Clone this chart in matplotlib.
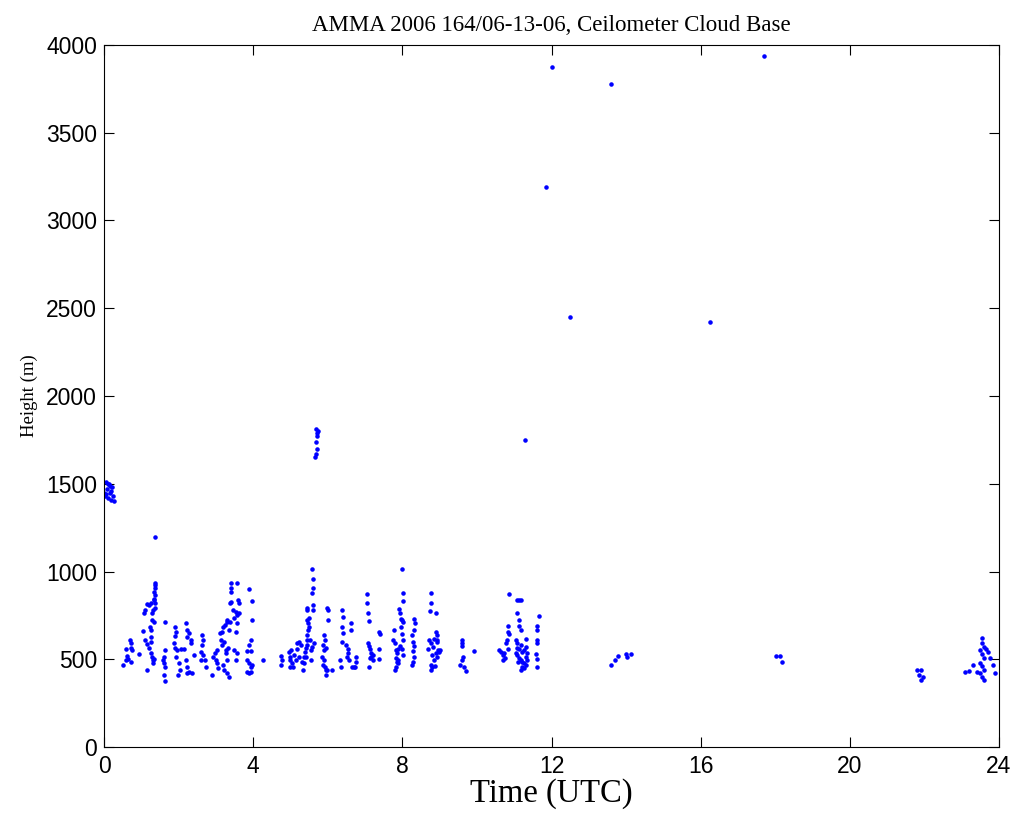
import matplotlib
matplotlib.use("Agg")
import matplotlib.pyplot as plt
import numpy as np

# cloud base hits (time in UTC hours, height in m)
t_early = [0.05, 0.10, 0.15, 0.08, 0.00, 0.05, 0.20, 0.25, 0.20, 0.28, 0.10, 0.02, 0.15, 0.22, 0.12]
h_early = [1510, 1500, 1490, 1470, 1450, 1440, 1460, 1430, 1410, 1400, 1420, 1430, 1450, 1480, 1500]

t_0to2 = [0.50, 0.59, 0.625, 0.64, 0.70, 0.71, 0.73, 0.75, 0.73, 0.59,
          0.94, 1.05, 1.09, 1.14, 1.16, 1.07, 1.11, 1.16, 1.21, 1.25,
          1.23, 1.25, 1.27, 1.21, 1.25, 1.29, 1.30, 1.32, 1.34, 1.25,
          1.29, 1.32, 1.36, 1.38, 1.34, 1.36, 1.34, 1.38, 1.36, 1.38, 1.34, 1.29, 1.34,
          1.63, 1.63, 1.61, 1.59, 1.61, 1.63, 1.61, 1.63,
          1.90, 1.92, 1.90, 1.875, 1.89, 1.95, 1.92, 2.01, 2.04, 1.98, 2.07, 1.37]
h_0to2 = [470, 556, 518, 499, 609, 590, 567, 552, 485, 495,
          529, 660, 609, 586, 438, 761, 780, 814, 808, 818,
          685, 666, 628, 562, 537, 514, 495, 480, 503, 598,
          761, 780, 790, 818, 841, 866, 885, 904, 923, 936, 837, 723, 714,
          714, 552, 514, 495, 476, 457, 410, 377,
          685, 657, 632, 594, 562, 552, 514, 476, 438, 410, 556, 1197]

t_2to4 = [2.19, 2.22, 2.28, 2.325, 2.34, 2.235, 2.19, 2.215, 2.235, 2.28, 2.37, 2.41, 2.145,
          2.64, 2.66, 2.64, 2.61, 2.66, 2.70, 2.73, 2.59,
          2.90, 2.93, 2.97, 2.99, 3.04, 3.02, 3.06,
          3.11, 3.15, 3.20, 3.24, 3.29, 3.31, 3.35, 3.13, 3.17, 3.22,
          3.26, 3.29, 3.31, 3.35, 3.22, 3.20, 3.26, 3.325,
          3.395, 3.41, 3.395, 3.38, 3.41, 3.47, 3.53, 3.57, 3.62, 3.48, 3.38,
          3.57, 3.59, 3.62, 3.57, 3.53, 3.48, 3.57, 3.53,
          3.89, 3.98, 3.98, 3.93, 3.89, 3.84, 3.93, 3.84, 3.89, 3.93, 3.98, 3.84, 3.89, 3.93,
          4.27]
h_2to4 = [704, 666, 647, 609, 590, 628, 495, 457, 419, 429, 423, 524, 556,
          638, 609, 581, 543, 524, 495, 457, 495,
          410, 514, 533, 495, 552, 476, 448,
          647, 657, 685, 695, 714, 723, 666, 609, 581, 600,
          533, 495, 419, 400, 438, 467, 552, 562,
          936, 904, 885, 818, 828, 780, 770, 752, 761, 733, 714,
          936, 837, 818, 704, 657, 552, 533, 495,
          898, 833, 723, 609, 581, 548, 548, 495, 476, 457, 467, 429, 423, 429,
          495]

t_4to7 = [4.755, 4.78, 4.755,
          4.96, 4.99, 5.00, 5.05, 5.08, 5.02, 5.09, 4.99,
          5.165, 5.23, 5.18, 5.27, 5.14, 5.23,
          5.34, 5.32, 5.36, 5.38, 5.41, 5.43, 5.45, 5.43, 5.47, 5.50, 5.45, 5.50, 5.45, 5.43, 5.47, 5.41, 5.36,
          5.585, 5.61, 5.61, 5.585, 5.61, 5.61,
          5.54, 5.585, 5.63, 5.52, 5.56,
          5.68, 5.72, 5.70, 5.68, 5.72, 5.68, 5.66, 5.74,
          5.90, 5.915, 5.88, 5.90, 5.94, 5.85, 5.90, 5.915, 5.94, 5.94, 5.88, 5.99, 6.12,
          5.97, 6.00, 6.00,
          6.39, 6.41, 6.39, 6.42, 6.39, 6.34, 6.36,
          6.48, 6.53, 6.54, 6.51, 6.57, 6.61, 6.61,
          6.66, 6.72, 6.75, 6.75, 6.70]
h_4to7 = [518, 495, 466,
          542, 514, 495, 476, 457, 552, 524, 457,
          590, 600, 556, 581, 495, 514,
          438, 486, 514, 543, 562, 581, 609, 638, 666, 685, 723, 733, 780, 790, 704, 514, 476,
          1017, 955, 904, 875, 808, 780,
          552, 571, 590, 609, 495,
          1810, 1790, 1770, 1740, 1700, 1670, 1650, 1800,
          638, 609, 581, 552, 562, 514, 495, 457, 438, 410, 467, 438, 438,
          790, 780, 723,
          780, 742, 685, 647, 600, 495, 457,
          580, 556, 533, 514, 495, 704, 666,
          457, 457, 514, 486, 457]

t_7to9 = [7.06, 7.06, 7.08, 7.10,
          7.08, 7.11, 7.13, 7.15, 7.17, 7.20, 7.11, 7.13, 7.22,
          7.37, 7.40, 7.37, 7.37,
          7.78, 7.76, 7.79, 7.82, 7.85, 7.82, 7.85, 7.87, 7.82, 7.79, 7.87, 7.88,
          7.91, 7.95, 7.97, 8.00, 8.03, 7.97, 8.00, 8.03, 7.95, 8.00, 8.03,
          8.00, 8.03, 8.01,
          8.31, 8.33, 8.31, 8.27, 8.29, 8.31, 8.29, 8.31, 8.29, 8.27]
h_7to9 = [871, 822, 761, 717,
          594, 575, 556, 533, 514, 495, 457, 505, 524,
          656, 643, 556, 499,
          666, 609, 590, 552, 533, 505, 486, 476, 457, 438, 556, 495,
          789, 761, 732, 723, 713, 685, 643, 609, 575, 556, 524,
          1012, 879, 833,
          727, 704, 666, 638, 600, 575, 548, 514, 486, 467]

t_9to12 = [8.78, 8.78, 8.74, 8.91,
           8.89, 8.92, 8.85, 8.94, 8.71, 8.76, 8.69, 8.83, 8.96, 8.89, 8.98, 8.80, 8.92, 8.85, 8.76, 8.80, 8.87, 8.78, 8.94, 9.01,
           9.61, 9.61, 9.61, 9.63, 9.61, 9.54, 9.65, 9.70, 9.92,
           10.59, 10.65, 10.69, 10.70,
           10.86, 11.08, 11.13, 11.17, 11.07, 11.13, 11.13, 11.17,
           10.83, 10.83, 10.86, 10.80, 10.77, 10.82, 10.73, 10.75,
           11.04, 11.07, 11.08, 11.13, 11.17, 11.22, 11.04, 11.08, 11.13, 11.17, 11.22, 11.26,
           11.31, 11.35, 11.26, 11.31, 11.35, 11.22, 11.26, 11.19, 11.31, 11.10, 11.31,
           11.66, 11.62, 11.62, 11.60, 11.62, 11.58, 11.60, 11.62,
           11.29]
h_9to12 = [879, 818, 776, 761,
           657, 638, 618, 609, 609, 590, 556, 571, 552, 533, 542, 523, 514, 495, 466, 457, 461, 438, 600, 552,
           609, 590, 575, 514, 495, 466, 457, 434, 546,
           552, 542, 523, 495,
           871, 837, 837, 837, 761, 723, 689, 666,
           689, 657, 643, 609, 590, 556, 533, 505,
           609, 590, 567, 556, 580, 542, 533, 523, 505, 495, 486, 476,
           514, 533, 552, 571, 495, 457, 448, 438, 466, 486, 618,
           746, 689, 666, 609, 594, 529, 499, 457,
           1749]

t_late = [13.60, 13.70, 13.77, 14.00, 14.02, 14.13,
          18.02, 18.13, 18.18,
          21.80, 21.90, 21.85, 21.95, 21.90,
          23.10, 23.20, 23.40, 23.30,
          23.55, 23.55, 23.60, 23.50, 23.55, 23.60, 23.50, 23.55, 23.60, 23.50, 23.55, 23.60,
          23.65, 23.70, 23.75, 23.85, 23.90]
h_late = [469, 496, 519, 530, 515, 530,
          519, 519, 484,
          440, 440, 410, 400, 380,
          430, 435, 430, 470,
          620, 590, 570, 550, 530, 510, 480, 460, 440, 420, 400, 380,
          560, 540, 510, 470, 420]

# high isolated returns
t_high = [11.85, 12.02, 12.50, 13.60, 16.25, 17.70]
h_high = [3190, 3875, 2450, 3780, 2420, 3935]

t = np.concatenate([t_early, t_0to2, t_2to4, t_4to7, t_7to9, t_9to12, t_late, t_high])
h = np.concatenate([h_early, h_0to2, h_2to4, h_4to7, h_7to9, h_9to12, h_late, h_high])

fig = plt.figure(figsize=(10.17, 8.22), dpi=100)
ax = fig.add_axes([0.1023, 0.0912, 0.8800, 0.8541])

ax.plot(t, h, linestyle='none', marker='.', markersize=4.5, color='b')

ax.set_xlim(0, 24)
ax.set_ylim(0, 4000)
ax.set_xticks(np.arange(0, 25, 4))
ax.set_yticks(np.arange(0, 4001, 500))
ax.tick_params(direction='in', top=True, right=True, length=7, labelsize=16.5)
ax.tick_params(axis='x', pad=6)
ax.tick_params(axis='y', pad=5)
for lab in ax.get_xticklabels() + ax.get_yticklabels():
    lab.set_family('Liberation Sans')

ax.set_title('AMMA 2006 164/06-13-06, Ceilometer Cloud Base', family='Liberation Serif', fontsize=16.5, pad=10)
ax.set_xlabel('Time (UTC)', family='Liberation Serif', fontsize=23.5, labelpad=0)
ax.set_ylabel('Height (m)', family='Liberation Serif', fontsize=13.5, labelpad=6)

plt.savefig('out.png', dpi=100)
